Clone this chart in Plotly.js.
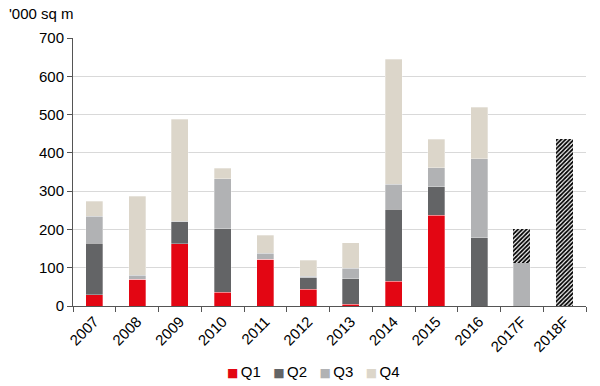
<!DOCTYPE html>
<html><head><meta charset="utf-8">
<script src="https://cdn.plot.ly/plotly-3.0.1.min.js"></script>
<style>body{margin:0;background:#fff}#c{width:600px;height:386px}</style>
</head><body><div id="c"></div>
<script>
const categories = ["2007","2008","2009","2010","2011","2012","2013","2014","2015","2016","2017F","2018F"];
const q1 = [30, 70, 163, 36, 122, 44, 5, 65, 237, 0, 0, 0];
const q2 = [134, 0, 59, 166, 0, 30, 66, 188, 74, 178, 0, 0];
const q3 = [70, 10, 0, 130, 16, 4, 28, 65, 50, 206, 113, 0];
const q4 = [40, 207, 266, 28, 47, 42, 66, 326, 74, 135, 0, 0];
const forecast = [0, 0, 0, 0, 0, 0, 0, 0, 0, 0, 87, 435];
const seriesNames = ['Q1', 'Q2', 'Q3', 'Q4'];
const seriesColors = ['#E30613', '#636466', '#B1B2B4', '#DCD6CA'];

const line = {color: 'rgba(255,255,255,0.6)', width: 0.5};
const values = [q1, q2, q3, q4];
const data = values.map((y, i) => ({type: 'bar', name: seriesNames[i], x: categories, y: y,
  marker: {color: seriesColors[i], line: line}}));
data.push({type: 'bar', name: 'Forecast', x: categories, y: forecast,
   marker: {color: '#ffffff', line: {width: 0},
     pattern: {shape: '/', fgcolor: '#000000', bgcolor: '#ffffff', size: 3, solidity: 0.6}}});

const font = {family: 'Liberation Sans, Arial, sans-serif', size: 15, color: '#000'};
const nb = '\u00a0';
const legendText = seriesNames.map((n, i) =>
  '<span style="color:' + seriesColors[i] + ';font-size:12px;font-family:DejaVu Sans">\u25A0\u2009</span>' + n
).join(nb + nb + nb);

const layout = {
  width: 600, height: 386,
  margin: {l: 73, r: 14, t: 38, b: 80},
  barmode: 'stack', bargap: 0.6,
  paper_bgcolor: '#fff', plot_bgcolor: '#fff',
  font: font,
  showlegend: false,
  xaxis: {type: 'category', tickangle: -45, tickson: 'boundaries', ticks: 'outside', ticklen: 5,
          tickcolor: '#555', showline: true, linecolor: '#555', linewidth: 1, showgrid: false,
          tickfont: font, automargin: false},
  yaxis: {range: [0, 700], dtick: 100, ticks: 'outside', ticklen: 5, tickcolor: '#555',
          showline: true, linecolor: '#555', linewidth: 1, gridcolor: '#D9D9D9', gridwidth: 1,
          zeroline: false, tickfont: font, automargin: false},
  annotations: [
    {text: "'000 sq m", xref: 'paper', yref: 'paper', x: -0.128, y: 1.09,
     xanchor: 'left', yanchor: 'middle', showarrow: false, font: font},
    {text: legendText, xref: 'paper', yref: 'paper', x: 0.468, y: -0.246,
     xanchor: 'center', yanchor: 'middle', showarrow: false, font: font}
  ]
};
Plotly.newPlot('c', data, layout, {displayModeBar: false, staticPlot: true});
</script></body></html>
